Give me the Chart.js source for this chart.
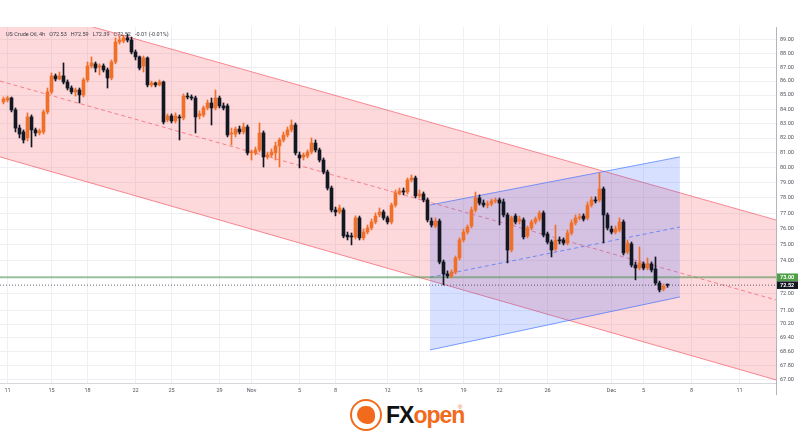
<!DOCTYPE html>
<html>
<head>
<meta charset="utf-8">
<script src="https://cdn.jsdelivr.net/npm/chart.js@4.4.1/dist/chart.umd.min.js"></script>
<style>
  html, body { margin:0; padding:0; background:#fff; }
  body { width:800px; height:439px; overflow:hidden; position:relative; }
  #wrap { position:absolute; left:0; top:0; width:800px; height:395px; }
  #logo { position:absolute; left:0; top:395px; width:800px; height:44px; }
</style>
</head>
<body>
<div id="wrap"><canvas id="c" width="800" height="395"></canvas></div>
<div id="logo">
  <div style="position:absolute;left:350px;top:4px;width:28px;height:28px;border:2px solid #f26b1d;border-radius:50%;"></div>
  <div style="position:absolute;left:357px;top:11px;width:18px;height:18px;background:#f26b1d;border-radius:50% 50% 40% 60%;"></div>
  <div style="position:absolute;left:386px;top:8px;font:bold 23px 'Liberation Sans',Arial,sans-serif;letter-spacing:-1px;line-height:24px;"><span style="color:#111">FX</span><span style="color:#f26b1d">open</span></div>
  <div style="position:absolute;left:458px;top:9px;font:6px 'Liberation Sans',Arial,sans-serif;color:#f26b1d;">®</div>
</div>
<script>
// ---- data (US Crude Oil, 4h candles) ----
const opens = [
  84.51, 84.65, 84.79, 83.95, 82.69, 82.42, 82.01, 83.46, 82.56, 82.35,
  82.42, 83.81, 85.22, 86.37, 86.15, 86.37, 85.93, 85.50, 85.22, 85.36,
  85.01, 86.08, 87.09, 87.24, 87.02, 87.09, 86.80, 86.22, 87.38, 88.85,
  88.93, 89.15, 89.00, 88.11, 87.75, 87.09, 87.67, 85.72, 85.86, 85.72,
  85.93, 83.25, 83.53, 83.18, 83.46, 83.39, 84.93, 84.86, 84.79, 83.53,
  83.60, 84.09, 84.44, 84.09, 84.79, 84.23, 84.23, 82.28, 82.28, 82.62,
  82.42, 82.76, 80.99, 80.99, 81.19, 82.35, 80.72, 80.85, 80.99, 81.46,
  81.87, 82.21, 82.56, 82.90, 80.85, 80.72, 80.78, 81.05, 81.66, 81.19,
  80.51, 79.71, 78.65, 77.22, 77.09, 77.22, 75.62, 75.56, 75.50, 76.71,
  75.44, 75.81, 76.07, 76.45, 76.90, 77.09, 76.71, 76.45, 77.54, 78.33,
  78.46, 78.39, 79.18, 79.31, 78.13, 78.26, 77.87, 76.51, 76.19, 76.51,
  73.94, 73.20, 73.08, 73.32, 74.19, 75.31, 75.81, 76.19, 77.22, 78.00,
  77.67, 77.54, 77.61, 77.80, 77.87, 77.74, 76.90, 74.68, 76.83, 76.51,
  76.58, 75.56, 76.07, 76.45, 76.64, 77.03, 75.69, 75.18, 74.75, 75.31,
  75.31, 75.12, 75.75, 76.39, 76.71, 76.83, 76.71, 77.54, 77.87, 77.87,
  78.59, 76.90, 76.00, 75.81, 75.94, 76.45, 74.56, 75.06, 73.75, 73.57,
  73.82, 73.57, 73.82, 73.51, 72.65, 72.29, 72.53
];
const highs = [
  84.86, 84.93, 84.86, 84.09, 82.90, 82.56, 83.74, 83.60, 82.69, 82.63,
  83.95, 85.50, 86.58, 86.51, 86.65, 87.31, 86.08, 85.65, 85.50, 85.50,
  86.22, 87.38, 87.75, 87.38, 87.24, 87.24, 86.94, 87.53, 89.15, 89.30,
  89.37, 89.45, 89.22, 88.26, 87.82, 87.82, 87.75, 86.00, 85.93, 86.08,
  86.00, 83.67, 83.67, 83.74, 83.60, 85.08, 85.15, 85.01, 84.93, 83.88,
  84.23, 84.65, 84.79, 85.36, 84.93, 84.44, 84.37, 82.69, 82.76, 82.83,
  83.04, 82.90, 81.19, 81.39, 83.04, 82.49, 81.05, 81.26, 81.73, 82.01,
  82.42, 82.76, 83.25, 83.04, 81.05, 80.99, 81.19, 82.01, 81.87, 81.32,
  80.65, 79.84, 78.78, 77.41, 77.54, 77.35, 75.81, 75.75, 76.84, 76.83,
  76.01, 76.26, 76.64, 77.03, 77.35, 77.22, 76.83, 77.67, 78.52, 78.65,
  78.65, 79.31, 79.51, 79.44, 78.52, 78.39, 78.00, 76.71, 76.71, 76.64,
  74.06, 73.39, 73.45, 74.31, 75.44, 76.00, 76.26, 77.41, 78.39, 78.20,
  77.87, 77.80, 77.93, 78.00, 78.00, 77.93, 77.03, 76.83, 76.97, 76.83,
  76.71, 76.19, 76.58, 76.77, 77.16, 77.16, 75.81, 75.31, 76.26, 75.50,
  75.44, 75.94, 76.58, 76.90, 76.97, 76.97, 77.74, 78.07, 78.07, 79.64,
  78.72, 77.03, 76.19, 76.19, 76.71, 76.58, 75.31, 75.18, 73.94, 74.87,
  73.94, 74.19, 73.94, 74.25, 72.77, 72.59, 72.59
];
const lows = [
  84.37, 84.51, 83.81, 82.42, 82.01, 81.66, 81.80, 81.39, 82.14, 82.21,
  82.28, 83.67, 85.08, 86.00, 86.08, 85.79, 85.36, 85.08, 84.93, 84.44,
  84.86, 85.93, 86.94, 86.65, 86.44, 86.65, 85.50, 86.08, 87.24, 88.70,
  88.78, 88.85, 87.97, 87.53, 86.80, 86.65, 85.58, 85.58, 85.58, 85.65,
  82.97, 83.11, 83.04, 83.04, 81.87, 83.25, 84.72, 84.65, 82.35, 83.32,
  83.46, 83.95, 82.90, 83.95, 84.09, 83.95, 82.08, 81.53, 82.08, 82.28,
  82.28, 80.85, 80.51, 80.85, 81.05, 80.04, 80.58, 80.72, 80.51, 80.04,
  81.73, 82.08, 82.42, 80.85, 79.98, 80.51, 80.65, 80.92, 81.05, 80.38,
  79.58, 78.52, 77.09, 76.84, 76.97, 75.44, 75.31, 75.00, 75.37, 75.31,
  75.31, 75.69, 75.94, 76.32, 76.77, 76.58, 76.32, 76.32, 77.41, 78.20,
  78.20, 78.26, 79.05, 78.00, 78.00, 77.74, 76.45, 76.13, 76.07, 73.82,
  72.53, 72.96, 72.96, 73.20, 74.06, 75.18, 75.69, 76.07, 77.09, 77.54,
  77.41, 77.35, 77.48, 77.67, 76.26, 76.77, 73.88, 74.56, 76.32, 76.32,
  75.37, 75.44, 75.94, 76.32, 76.51, 75.50, 75.06, 74.25, 74.62, 75.06,
  75.00, 75.00, 75.62, 76.26, 76.58, 76.51, 76.58, 77.41, 77.67, 77.74,
  75.12, 75.94, 75.69, 75.69, 75.81, 74.37, 74.43, 73.63, 72.84, 73.45,
  73.45, 73.45, 73.32, 72.53, 72.11, 72.17, 72.39
];
const closes = [
  84.72, 84.79, 83.95, 82.69, 82.28, 81.87, 83.46, 82.56, 82.35, 82.49,
  83.81, 85.22, 86.37, 86.15, 86.37, 85.93, 85.50, 85.22, 85.36, 85.01,
  86.08, 87.09, 87.31, 86.94, 87.09, 86.80, 86.22, 87.38, 88.85, 89.00,
  89.15, 89.00, 88.11, 87.75, 86.94, 87.67, 85.72, 85.86, 85.72, 85.93,
  83.11, 83.53, 83.18, 83.53, 83.39, 84.93, 84.86, 84.79, 83.46, 83.67,
  84.09, 84.44, 84.09, 84.79, 84.23, 84.09, 82.21, 82.35, 82.62, 82.42,
  82.76, 80.99, 81.05, 81.19, 82.35, 80.72, 80.85, 81.05, 81.46, 81.87,
  82.21, 82.56, 82.90, 80.99, 80.65, 80.85, 81.05, 81.66, 81.19, 80.51,
  79.71, 78.65, 77.22, 77.09, 77.35, 75.56, 75.50, 75.50, 76.71, 75.44,
  75.81, 76.07, 76.45, 76.83, 77.09, 76.71, 76.45, 77.54, 78.33, 78.46,
  78.39, 79.18, 79.31, 78.13, 78.26, 77.87, 76.58, 76.26, 76.51, 73.94,
  73.20, 73.08, 73.32, 74.19, 75.31, 75.81, 76.13, 77.22, 78.00, 77.67,
  77.54, 77.61, 77.80, 77.87, 77.67, 76.90, 74.68, 76.71, 76.45, 76.64,
  75.50, 76.07, 76.45, 76.64, 77.03, 75.62, 75.18, 74.68, 75.31, 75.25,
  75.12, 75.75, 76.39, 76.71, 76.77, 76.64, 77.54, 77.87, 77.80, 78.59,
  76.90, 76.07, 75.81, 76.00, 76.45, 74.50, 75.12, 73.75, 73.57, 73.88,
  73.57, 73.82, 73.45, 72.65, 72.23, 72.47, 72.52
];

// x axis: bar index of each date label
const tickBars   = [1, 12, 21, 33, 42, 54, 62, 74, 83, 96, 104, 115, 124, 136, 152, 160, 172, 184];
const tickLabels = ['11','15','18','22','25','29','Nov','5','8','12','15','19','22','26','Dec','5','8','11'];
// y axis price ticks
const priceTicks = [89, 88, 87, 86, 85, 84, 83, 82, 81, 80, 79, 78, 77, 76, 75, 74, 73, 72, 71, 70.2, 69.4, 68.6, 67.8, 67];
const yRange = [66.83, 89.97];
const xRange = [-0.875, 193.125];

// descending red channel (bar index, price)
const channelX = [-0.875, 193.125];
const redUpper = [91.97, 76.58];
const redMid   = [86.00, 71.63];
const redLower = [80.72, 67.00];
// rising blue channel
const blueX     = [106.6, 169.1];
const blueUpper = [77.54, 80.72];
const blueMid   = [72.99, 76.13];
const blueLower = [68.70, 71.81];
// horizontal levels
const levelLine = 73.00;
const lastPrice = 72.52;
const titleText = 'US Crude Oil, 4h   O72.53   H72.59   L72.39   C72.52   -0.01 (-0.01%)';

// ---- chart ----
const UP = '#f0702a', DOWN = '#131722';
const candleColors = closes.map((c, i) => c >= opens[i] ? UP : DOWN);
const pts = (xs, ys) => xs.map((x, i) => ({ x: x, y: ys[i] }));
const tickFont = { family: 'Roboto', size: 5.5 };

const overlay = {
  id: 'overlay',
  afterDraw(chart) {
    const { ctx, chartArea } = chart;
    const y = chart.scales.y;
    ctx.save();
    // price axis separator continues through the time axis
    ctx.strokeStyle = '#b2b5be';
    ctx.lineWidth = 1;
    ctx.beginPath();
    ctx.moveTo(Math.round(chartArea.right) + 0.5, chartArea.bottom);
    ctx.lineTo(Math.round(chartArea.right) + 0.5, chart.height);
    ctx.stroke();
    // price tags
    const tags = [
      { v: levelLine, text: levelLine.toFixed(2), bg: '#4f9f45' },
      { v: lastPrice, text: lastPrice.toFixed(2), bg: '#131722' }
    ];
    ctx.font = 'bold 5.5px Roboto';
    ctx.textBaseline = 'middle';
    ctx.textAlign = 'left';
    tags.forEach(t => {
      const py = y.getPixelForValue(t.v);
      ctx.fillStyle = t.bg;
      ctx.fillRect(chartArea.right + 1, py - 3.8, 21, 7.6);
      ctx.fillStyle = '#fff';
      ctx.fillText(t.text, chartArea.right + 4, py + 0.3);
    });
    // legend title
    ctx.fillStyle = '#3a3d47';
    ctx.font = '5.5px Roboto';
    ctx.fillText(titleText, 6, 34.5);
    ctx.restore();
  }
};

const lineDs = (data, color, extra) => Object.assign({
  type: 'line', data: data, borderColor: color, borderWidth: 1,
  pointRadius: 0, fill: false, tension: 0
}, extra || {});

new Chart(document.getElementById('c'), {
  type: 'bar',
  data: {
    datasets: [
      lineDs(pts(channelX, redUpper), 'rgba(242,54,69,0.55)', { fill: '+1', backgroundColor: 'rgba(242,54,69,0.19)', order: 20 }),
      lineDs(pts(channelX, redLower), 'rgba(242,54,69,0.55)', { order: 19 }),
      lineDs(pts(channelX, redMid), 'rgba(242,54,69,0.55)', { borderDash: [4, 3], order: 18 }),
      lineDs(pts(blueX, blueUpper), 'rgba(41,98,255,0.6)', { fill: '+1', backgroundColor: 'rgba(41,98,255,0.19)', order: 17 }),
      lineDs(pts(blueX, blueLower), 'rgba(41,98,255,0.6)', { order: 16 }),
      lineDs(pts(blueX, blueMid), 'rgba(41,98,255,0.6)', { borderDash: [4, 3], order: 15 }),
      lineDs(pts(xRange, [levelLine, levelLine]), 'rgba(80,150,80,0.55)', { borderWidth: 2, order: 14 }),
      lineDs(pts(xRange, [lastPrice, lastPrice]), 'rgba(60,60,80,0.8)', { borderDash: [1, 2], order: 13 }),
      {
        type: 'bar',
        data: lows.map((l, i) => ({ x: i, y: [l, highs[i]] })),
        backgroundColor: candleColors, barThickness: 1, grouped: false, order: 2
      },
      {
        type: 'bar',
        data: opens.map((o, i) => ({ x: i, y: [o, closes[i]] })),
        backgroundColor: candleColors, barThickness: 3, minBarLength: 1, grouped: false, order: 1
      }
    ]
  },
  options: {
    animation: false,
    responsive: false,
    events: [],
    layout: { padding: { top: 27, left: 0, right: 0, bottom: 0 } },
    plugins: { legend: { display: false }, tooltip: { enabled: false } },
    scales: {
      x: {
        type: 'linear', min: xRange[0], max: xRange[1], offset: false,
        grid: { color: '#eef0f4', offset: false, drawTicks: false },
        border: { color: '#d6d8de' },
        ticks: {
          autoSkip: false, maxRotation: 0, padding: 4, font: tickFont, color: '#50535e',
          callback: (v, i) => tickLabels[i]
        },
        afterBuildTicks: a => { a.ticks = tickBars.map(v => ({ value: v })); },
        afterFit: a => { a.height = 12; }
      },
      y: {
        type: 'logarithmic', position: 'right', min: yRange[0], max: yRange[1],
        grid: { color: '#eef0f4', drawTicks: false },
        border: { color: '#b2b5be' },
        ticks: {
          autoSkip: false, padding: 4, font: tickFont, color: '#50535e',
          callback: v => Number(v).toFixed(2)
        },
        afterBuildTicks: a => { a.ticks = priceTicks.map(v => ({ value: v })); },
        afterFit: a => { a.width = 24; }
      }
    }
  },
  plugins: [overlay]
});
</script>
</body>
</html>
